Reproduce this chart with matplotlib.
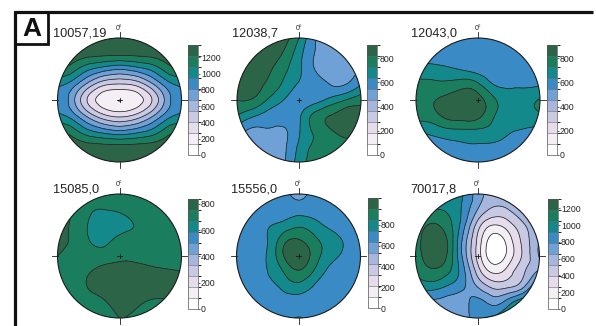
import numpy as np
import matplotlib
matplotlib.use("Agg")
import matplotlib.pyplot as plt
import matplotlib.tri as mtri
from matplotlib.patches import Circle, Rectangle
from matplotlib.colors import ListedColormap, BoundaryNorm
from matplotlib.cm import ScalarMappable

plt.rcParams['font.family'] = ['Liberation Sans', 'DejaVu Sans']

# ---------------- data ----------------
labels = ["10057,19", "12038,7", "12043,0", "15085,0", "15556,0", "70017,8"]
vmax = [1350, 908, 908, 838, 1060, 1310]
cbar_ticks = [[0, 200, 400, 600, 800, 1000, 1200],
              [0, 200, 400, 600, 800],
              [0, 200, 400, 600, 800],
              [0, 200, 400, 600, 800],
              [0, 200, 400, 600, 800],
              [0, 200, 400, 600, 800, 1000, 1200]]

# grid positions (unit circle coordinates), rows listed from top (north) to bottom
grid_x = [-1, -0.75, -0.5, -0.25, 0, 0.25, 0.5, 0.75, 1]
grid_y = [1, 0.75, 0.5, 0.25, 0, -0.25, -0.5, -0.75, -1]

# density, in tenths of each panel's colour-bar maximum
dens_10057 = [
    [9.8, 9.8, 9.8, 9.8, 9.8, 9.8, 9.8, 9.8, 9.8],
    [9.6, 9.6, 9.4, 9.3, 9.3, 9.3, 9.4, 9.6, 9.6],
    [9.0, 8.4, 7.2, 6.5, 6.1, 6.5, 7.2, 8.4, 9.0],
    [7.2, 6.4, 4.6, 3.2, 2.9, 3.2, 4.6, 6.4, 7.2],
    [7.0, 5.3, 2.8, 1.4, 1.0, 1.4, 2.8, 5.3, 7.0],
    [7.2, 6.4, 4.6, 3.2, 2.7, 3.2, 4.6, 6.4, 7.2],
    [9.0, 8.4, 7.2, 6.5, 6.1, 6.5, 7.2, 8.4, 9.0],
    [9.6, 9.6, 9.4, 9.3, 9.3, 9.3, 9.4, 9.6, 9.6],
    [9.8, 9.8, 9.8, 9.8, 9.8, 9.8, 9.8, 9.8, 9.8]]
dens_12038 = [
    [9.8, 9.8, 9.7, 9.4, 8.0, 6.1, 5.5, 5.5, 5.6],
    [9.8, 9.7, 9.6, 8.9, 7.4, 6.0, 5.4, 5.4, 5.6],
    [9.7, 9.6, 9.2, 8.3, 7.2, 6.0, 5.4, 5.5, 6.0],
    [9.5, 9.4, 8.8, 7.8, 6.9, 6.4, 6.0, 6.0, 7.0],
    [9.0, 8.9, 7.9, 7.0, 6.6, 6.6, 7.3, 8.0, 8.6],
    [8.0, 7.2, 6.6, 6.3, 6.8, 8.3, 9.0, 9.5, 9.3],
    [6.5, 5.8, 5.9, 5.9, 6.9, 8.2, 8.9, 9.3, 9.0],
    [5.7, 5.6, 5.5, 5.8, 7.2, 8.2, 8.7, 8.8, 8.8],
    [5.7, 5.6, 5.6, 5.9, 7.5, 8.3, 8.6, 8.7, 8.7]]
dens_12043 = [
    [6.3, 6.3, 6.3, 6.3, 6.3, 6.2, 6.2, 6.2, 6.2],
    [6.7, 6.6, 6.5, 6.3, 6.3, 6.2, 6.2, 6.2, 6.2],
    [7.3, 7.3, 7.15, 6.9, 6.6, 6.4, 6.3, 6.3, 6.3],
    [8.3, 8.3, 8.3, 8.6, 8.2, 7.0, 6.8, 6.8, 6.9],
    [8.7, 8.9, 9.3, 9.6, 9.4, 8.2, 7.4, 7.6, 8.1],
    [8.4, 8.6, 9.3, 9.5, 9.3, 8.1, 7.4, 7.5, 7.8],
    [7.0, 7.3, 7.7, 7.8, 7.8, 7.6, 7.1, 6.9, 6.6],
    [6.5, 6.6, 6.7, 6.85, 6.9, 6.8, 6.6, 6.4, 6.3],
    [6.3, 6.3, 6.4, 6.4, 6.5, 6.4, 6.3, 6.3, 6.3]]
dens_15085 = [
    [9.0, 8.8, 8.4, 8.3, 8.3, 8.4, 8.5, 8.5, 8.5],
    [9.2, 9.0, 8.2, 8.0, 8.15, 8.4, 8.5, 8.5, 8.5],
    [9.4, 8.8, 7.95, 7.4, 7.6, 8.05, 8.4, 8.5, 8.5],
    [9.4, 8.8, 8.05, 7.7, 8.35, 8.4, 8.5, 8.5, 8.6],
    [9.0, 8.5, 8.4, 8.5, 8.8, 8.8, 8.7, 8.6, 8.7],
    [8.4, 8.4, 8.9, 9.3, 9.4, 9.3, 9.2, 9.1, 9.0],
    [8.3, 8.4, 9.05, 9.4, 9.5, 9.5, 9.4, 9.3, 9.2],
    [8.3, 8.3, 8.5, 8.9, 9.3, 9.2, 8.9, 8.9, 9.0],
    [8.3, 8.3, 8.4, 8.6, 9.0, 8.8, 8.6, 8.7, 8.8]]
dens_15556 = [
    [6.3, 6.3, 6.3, 6.3, 5.7, 6.3, 6.3, 6.3, 6.3],
    [6.3, 6.4, 6.4, 6.5, 6.5, 6.5, 6.4, 6.3, 6.3],
    [6.3, 6.5, 6.9, 7.3, 7.8, 7.4, 6.8, 6.5, 6.3],
    [6.4, 6.7, 7.0, 8.6, 9.1, 8.3, 7.5, 6.9, 6.4],
    [6.4, 6.6, 7.1, 8.9, 9.7, 8.6, 7.4, 6.8, 6.4],
    [6.4, 6.6, 7.0, 8.0, 8.9, 7.9, 6.8, 6.5, 6.3],
    [6.3, 6.4, 6.7, 7.2, 7.6, 6.9, 6.6, 6.4, 6.3],
    [6.3, 6.3, 6.4, 6.5, 6.6, 6.5, 6.4, 6.3, 6.3],
    [6.3, 6.3, 6.3, 6.4, 7.1, 6.4, 6.3, 6.3, 6.3]]
dens_70017 = [
    [7.8, 7.8, 7.5, 7.1, 5.5, 4.8, 5.2, 5.5, 5.6],
    [7.9, 8.0, 7.9, 6.9, 5.0, 3.8, 4.0, 5.0, 5.5],
    [8.2, 9.1, 8.5, 6.6, 3.6, 2.0, 2.6, 3.9, 5.2],
    [8.6, 9.6, 9.1, 6.0, 2.8, 0.5, 1.5, 3.4, 5.1],
    [8.5, 9.5, 9.0, 6.0, 2.7, 0.4, 1.4, 3.3, 5.1],
    [8.2, 8.8, 8.3, 6.5, 3.6, 1.8, 2.5, 3.9, 5.2],
    [7.2, 7.4, 6.9, 6.2, 5.0, 3.8, 3.9, 5.0, 8.0],
    [6.0, 5.8, 5.6, 5.6, 6.3, 5.7, 6.6, 7.8, 8.0],
    [6.0, 5.7, 5.6, 5.7, 6.5, 7.2, 7.8, 8.0, 8.0]]
densities = [dens_10057, dens_12038, dens_12043, dens_15085, dens_15556, dens_70017]

band_colors = ['#ffffff', '#f4eff5', '#e6dcec', '#cac9e4', '#a7b6dc',
               '#6fa1d6', '#3a8ac6', '#13898c', '#1a7e5e', '#2c6447']

# ---------------- layout (pixels) ----------------
W, H = 596, 326
centers = [(119.5, 100), (299, 100), (478, 100), (119.5, 256), (298.5, 256), (477.5, 256)]
R = 62
cbar_x = [188, 367, 547, 188, 368, 548]
cbar_top = [45, 45, 45, 199, 198, 199]
cbar_h = 110
cbar_w = 9.5

fig = plt.figure(figsize=(W / 100, H / 100), dpi=100)

# frame + panel letter
ax0 = fig.add_axes([0, 0, 1, 1])
ax0.set_xlim(0, W)
ax0.set_ylim(H, 0)
ax0.axis('off')
ax0.plot([15, 15], [11, H], color='#111111', lw=2.3, solid_capstyle='butt')
ax0.plot([14, 593], [12, 12], color='#111111', lw=2.3, solid_capstyle='butt')
ax0.add_patch(Rectangle((15, 12), 33, 32, fill=False, ec='#111111', lw=2.0))
ax0.text(31.5, 29, 'A', fontsize=19, fontweight='bold', ha='center', va='center', color='#111111')

cmap = ListedColormap(band_colors)
gx, gy = np.meshgrid(np.array(grid_x, float), np.array(grid_y, float))
tri = mtri.Triangulation(gx.ravel(), gy.ravel())
refiner = mtri.UniformTriRefiner(tri)

E = 1.2
for k in range(6):
    cx, cy = centers[k]
    ax = fig.add_axes([(cx - E * R) / W, (H - cy - E * R) / H, 2 * E * R / W, 2 * E * R / H])
    ax.set_xlim(-E, E)
    ax.set_ylim(-E, E)
    ax.axis('off')
    levels = np.linspace(0, vmax[k], 11)
    z = np.array(densities[k], float).ravel() * vmax[k] / 10.0
    tri_f, z_f = refiner.refine_field(z, subdiv=4)
    z_f = np.clip(z_f, vmax[k] * 0.001, vmax[k] * 0.999)
    clip = Circle((0, 0), 1, transform=ax.transData)
    cf = ax.tricontourf(tri_f, z_f, levels=levels, cmap=cmap, norm=BoundaryNorm(levels, 10))
    cf.set_clip_path(clip)
    cl = ax.tricontour(tri_f, z_f, levels=levels[1:-1], colors='#262626', linewidths=0.55)
    cl.set_clip_path(clip)
    ax.add_patch(Circle((0, 0), 1, fill=False, ec='#1a1a1a', lw=0.8, zorder=5))
    # cardinal ticks and centre cross
    tk = dict(color='#1a1a1a', lw=0.6, zorder=6, clip_on=False)
    ax.plot([0, 0], [1.0, 1.09], **tk)
    ax.plot([0, 0], [-1.0, -1.09], **tk)
    ax.plot([-1.0, -1.09], [0, 0], **tk)
    ax.plot([1.0, 1.09], [0, 0], **tk)
    ax.plot([-0.04, 0.04], [0, 0], **tk)
    ax.plot([0, 0], [-0.04, 0.04], **tk)
    ax.text(0, 1.1, '0°', fontsize=5, ha='center', va='bottom', color='#222222')
    ax.text(-67 / R, 1.02, labels[k], fontsize=9.2, ha='left', va='baseline', color='#222222')

    # colour bar
    cax = fig.add_axes([cbar_x[k] / W, (H - cbar_top[k] - cbar_h) / H, cbar_w / W, cbar_h / H])
    sm = ScalarMappable(norm=BoundaryNorm(levels, 10), cmap=cmap)
    cb = fig.colorbar(sm, cax=cax, drawedges=True, ticks=cbar_ticks[k])
    cb.outline.set_edgecolor('#555555')
    cb.outline.set_linewidth(0.5)
    cb.dividers.set_color('#666666')
    cb.dividers.set_linewidth(0.4)
    cax.tick_params(labelsize=6.3, length=1.5, width=0.5, pad=1, colors='#222222')

fig.savefig('out.png', dpi=100)
